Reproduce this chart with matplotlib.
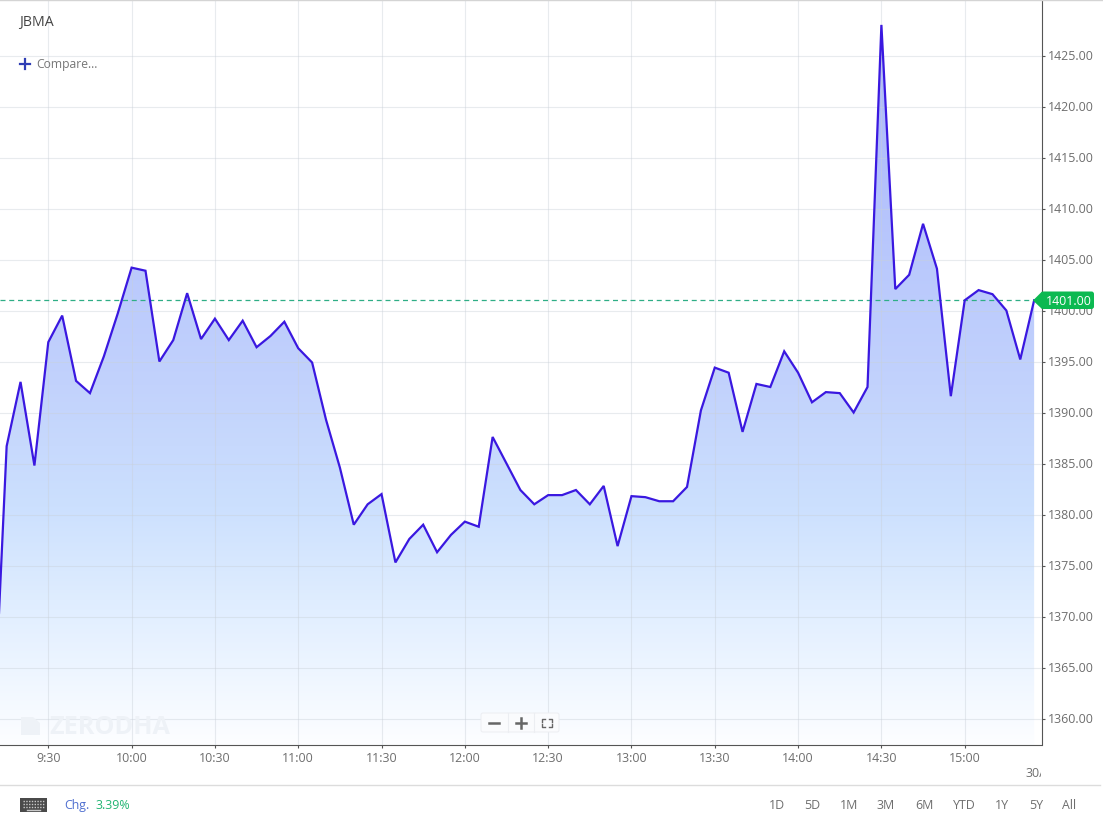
import numpy as np
import matplotlib
matplotlib.use("Agg")
import matplotlib.pyplot as plt
from matplotlib.patches import Polygon, FancyBboxPatch, Rectangle
from matplotlib.colors import LinearSegmentedColormap
from matplotlib.transforms import ScaledTranslation

plt.rcParams['font.family'] = ['Open Sans', 'DejaVu Sans']

# cours toutes les 5 minutes a partir de 9:10
start_min = 9*60 + 10
prices = [1357.0, 1386.7, 1393.0, 1384.8, 1396.9, 1399.5, 1393.1, 1391.9, 1395.5, 1399.7,
          1404.2, 1403.9, 1395.0, 1397.1, 1401.7, 1397.2, 1399.2, 1397.1, 1399.0, 1396.4,
          1397.5, 1398.9, 1396.3, 1394.9, 1389.3, 1384.6, 1379.0, 1381.0, 1382.0, 1375.3,
          1377.6, 1379.0, 1376.3, 1378.0, 1379.3, 1378.8, 1387.6, 1385.0, 1382.4, 1381.0,
          1381.9, 1381.9, 1382.4, 1381.0, 1382.8, 1376.9, 1381.8, 1381.7, 1381.3, 1381.3,
          1382.7, 1390.2, 1394.4, 1393.9, 1388.1, 1392.8, 1392.5, 1396.0, 1393.9, 1391.0,
          1392.0, 1391.9, 1390.0, 1392.5, 1428.0, 1402.1, 1403.5, 1408.5, 1404.1, 1391.6,
          1401.0, 1402.0, 1401.6, 1400.0, 1395.2, 1401.0]
minutes = [start_min + 5*i for i in range(len(prices))]

y_ticks = [1360, 1365, 1370, 1375, 1380, 1385, 1390, 1395, 1400, 1405, 1410, 1415, 1420, 1425]
x_ticks = [570, 600, 630, 660, 690, 720, 750, 780, 810, 840, 870, 900]
x_labels = ['9:30', '10:00', '10:30', '11:00', '11:30', '12:00', '12:30', '13:00', '13:30', '14:00', '14:30', '15:00']
last_price = 1401.0
ranges = ['1D', '5D', '1M', '3M', '6M', 'YTD', '1Y', '5Y', 'All']
range_x = [777, 812, 849, 886, 924, 964, 1002, 1036, 1069]

W, H = 1103, 829
fig = plt.figure(figsize=(W/100, H/100), dpi=100)

# +0.7 px : la grille tombe sur la meme ligne que la reference
ax = fig.add_axes([0, 1-745.7/H, 1041.5/W, 745.7/H])
px_min = 2.777
px_unit = 10.2
xmin = 570 - 48.3/px_min
x_lim = (xmin, xmin + 1041.5/px_min)
y_lim = (1425 - (745.7-56.5)/px_unit, 1425 + 56.5/px_unit)

# degrade sous la courbe
cmap = LinearSegmentedColormap.from_list('fond', [(0, '#fdfeff'), (0.2, '#dfedff'), (0.33, '#cce0fe'),
                                                  (0.5, '#c2d2fc'), (0.68, '#b9c8fd'), (1, '#aab5fc')])
grad = np.linspace(1, 0, 256).reshape(-1, 1)
im = ax.imshow(grad, aspect='auto', cmap=cmap, zorder=1,
               extent=[minutes[0], minutes[-1], y_lim[0], max(prices)])
poly = Polygon(list(zip(minutes, prices)) + [(minutes[-1], y_lim[0]), (minutes[0], y_lim[0])],
               closed=True, transform=ax.transData, fc='none', ec='none')
ax.add_patch(poly)
im.set_clip_path(poly)
ax.set_xlim(x_lim)
ax.set_ylim(y_lim)

ax.plot(minutes, prices, color='#3a18e0', lw=1.6, zorder=4, solid_joinstyle='miter')
ax.axhline(last_price, color='#2fae86', lw=0.9, dashes=(4, 3), zorder=3)

ax.set_axisbelow(False)
ax.grid(True, color='#c9d0d8', alpha=0.42, lw=0.8, zorder=2)
ax.yaxis.tick_right()
ax.set_yticks(y_ticks)
ax.set_yticklabels(['%.2f' % v for v in y_ticks])
ax.set_xticks(x_ticks)
ax.set_xticklabels(x_labels)
ax.tick_params(axis='both', labelsize=8.9, labelcolor='#6e6e6e', color='#555555', length=2.5, width=0.8)
ax.tick_params(axis='x', pad=2.2)
ax.tick_params(axis='y', pad=1.8)
ax.spines['left'].set_visible(False)
ax.spines['top'].set_visible(False)
ax.spines['right'].set_color('#555555')
ax.spines['bottom'].set_color('#555555')
up = ScaledTranslation(0, 1.5/100, fig.dpi_scale_trans)
for lab in ax.get_yticklabels():
    lab.set_transform(lab.get_transform() + up)

# surcouche en pixels pour l'interface
ui = fig.add_axes([0, 0, 1, 1], facecolor='none')
ui.set_xlim(0, W)
ui.set_ylim(H, 0)
ui.axis('off')

ui.plot([0, W], [0.5, 0.5], color='#d4d4d4', lw=1)
ui.plot([0, 1100], [785.5, 785.5], color='#dcdcdc', lw=1)
ui.text(19.5, 22.5, 'JBMA', fontsize=10.2, color='#444444', va='center')
ui.plot([25, 25], [59.5, 69.5], color='#2f3eb5', lw=1.6)
ui.plot([20, 30], [64.5, 64.5], color='#2f3eb5', lw=1.6)
ui.text(36, 64, 'Compare...', fontsize=8.7, color='#777777', va='center')

# filigrane
ui.add_patch(Polygon([(21, 736), (21, 718), (33, 718), (40, 724), (40, 736)], fc='#eef2f7', ec='none', zorder=1))
ui.text(49, 727, 'ZERODHA', fontsize=18.2, fontweight='bold', color='#eef2f7', va='center', zorder=1)

# boutons de zoom
ui.add_patch(FancyBboxPatch((481, 714), 78, 19, boxstyle='round,pad=0,rounding_size=2', fc='#fafbfd', ec='#eceef2', lw=0.7))
ui.plot([489, 499], [724, 724], color='#666666', lw=1.8)
ui.plot([515.5, 525.5], [724, 724], color='#666666', lw=1.8)
ui.plot([520.5, 520.5], [719, 729], color='#666666', lw=1.8)
ui.plot([508, 508], [714, 733], color='#eceef2', lw=0.8)
ui.plot([534, 534], [714, 733], color='#eceef2', lw=0.8)
ui.plot([542, 542, 545], [723, 720, 720], color='#666666', lw=1)
ui.plot([549, 552, 552], [720, 720, 723], color='#666666', lw=1)
ui.plot([542, 542, 545], [725, 728, 728], color='#666666', lw=1)
ui.plot([549, 552, 552], [728, 728, 725], color='#666666', lw=1)

# etiquette du dernier cours
ui.add_patch(FancyBboxPatch((1041, 292.5), 53, 17.5, boxstyle='round,pad=0,rounding_size=2.5', fc='#0cb951', ec='none', zorder=5))
ui.add_patch(Polygon([(1033, 301.5), (1042, 292.5), (1042, 310)], fc='#0cb951', ec='none', zorder=5))
ui.text(1069, 301, '%.2f' % last_price, fontsize=8.9, color='white', ha='center', va='center', zorder=6)

# date coupee au bord droit du graphique
date = ui.text(1026, 773.5, '30/04', fontsize=8.9, color='#6e6e6e', va='center', clip_on=True)
date.set_clip_path(Rectangle((1020, 760), 21, 25, transform=ui.transData))

# barre du bas
ui.add_patch(Rectangle((20, 799), 27, 14, fc='#4a4a4a', ec='none'))
for row_y in [802, 805, 808]:
    ui.plot([23, 44], [row_y, row_y], color='#c8c8c8', lw=1, dashes=(1, 1))
ui.plot([27, 40], [811, 811], color='#c8c8c8', lw=1)
ui.text(64, 805.5, 'Chg.', fontsize=8.9, color='#4f6fd0', va='center')
ui.text(95, 805.5, '3.39%', fontsize=8.9, color='#22b573', va='center')
for lab, x in zip(ranges, range_x):
    ui.text(x, 805.5, lab, fontsize=8.9, color='#6e6e6e', ha='center', va='center')

fig.savefig('out.png', dpi=100)
